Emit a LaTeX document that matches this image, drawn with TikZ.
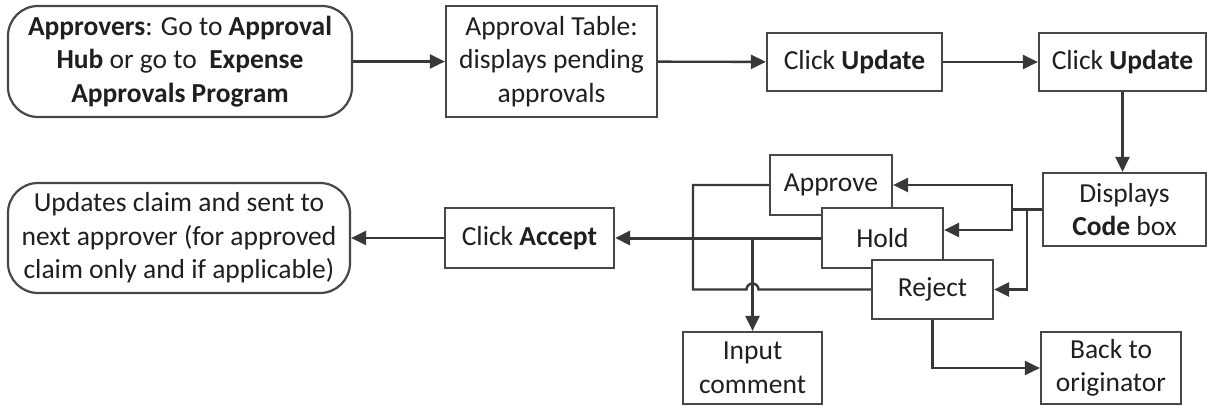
\documentclass[tikz,border=0pt]{standalone}
\usepackage{fontspec}
\setmainfont{Carlito}
\usetikzlibrary{arrows.meta}
\begin{document}
\begin{tikzpicture}[x=1pt,y=-1pt,
  every node/.style={font=\fontsize{27.5}{33.5}\selectfont, text=black!88, align=center, inner sep=0pt},
  box/.style={draw=black!72, line width=2.2pt, fill=white},
  rbox/.style={box, rounded corners=30pt},
  conn/.style={draw=black!78, line width=2.4pt},
  arr/.style={conn, -{Triangle[length=15pt,width=14pt]}}]
\useasboundingbox (0,0) rectangle (1207,405);
\fill[white] (0,0) rectangle (1207,405);
% nodes
\node[rbox, minimum width=344pt, minimum height=111pt] (start) at (180,61.5)
  {\textbf{Approvers}: Go to \textbf{Approval}\\ \textbf{Hub} or go to\ \ \textbf{Expense}\\ \textbf{Approvals Program}};
\node[box, minimum width=211pt, minimum height=111pt] (table) at (551.5,61.5)
  {Approval Table:\\ displays pending\\ approvals};
\node[box, minimum width=175pt, minimum height=58pt] (upd1) at (854.5,62) {Click \textbf{Update}};
\node[box, minimum width=167pt, minimum height=58pt] (upd2) at (1122.5,62) {Click \textbf{Update}};
\node[box, minimum width=163pt, minimum height=73pt] (code) at (1124.5,209.5) {Displays\\ \textbf{Code} box};
\node[box, minimum width=122pt, minimum height=60pt] (approve) at (831,185) {Approve};
\node[box, minimum width=121pt, minimum height=60pt] (hold) at (882.5,238) {Hold};
\node[box, minimum width=121pt, minimum height=59pt] (reject) at (932.5,289.5) {Reject};
\node[box, minimum width=169pt, minimum height=60pt] (accept) at (529.5,238) {Click \textbf{Accept}};
\node[rbox, minimum width=342pt, minimum height=110pt] (final) at (179,238)
  {Updates claim and sent to\\ next approver (for approved\\ claim only and if applicable)};
\node[box, minimum width=139pt, minimum height=72pt] (input) at (752.5,368) {Input\\ comment};
\node[box, minimum width=140pt, minimum height=72pt] (back) at (1111,368) {Back to\\ originator};
% helper coordinates
\coordinate (lx) at (693,0);
\coordinate (bx) at (1012,0);
\coordinate (cx) at (1027,0);
% top row
\draw[arr] (start) -- (table);
\draw[arr] (table) -- (upd1);
\draw[arr] (upd1) -- (upd2);
\draw[arr] (upd2.south) -- (upd2.south |- code.north);
% bracket from code box
\draw[conn] (code.west) -- (bx |- code.west);
\draw[arr] (bx |- code.west) |- (approve.east);
\draw[arr] (bx |- code.west) |- ([yshift=8pt]hold.east);
\draw[arr] (cx |- code.west) |- (reject.east);
% left loop
\draw[conn] (approve.west) -| (lx |- reject.west)
  -- ([xshift=-6pt]input.north |- reject.west)
  arc[start angle=180, end angle=0, radius=6pt]
  -- (reject.west);
\draw[arr, line width=3pt] (hold.west) -- (accept.east);
\draw[arr] (input.north |- hold.west) -- (input.north);
\draw[arr] (reject.south) |- (back.west);
\draw[arr] (accept) -- (final);
\end{tikzpicture}
\end{document}
